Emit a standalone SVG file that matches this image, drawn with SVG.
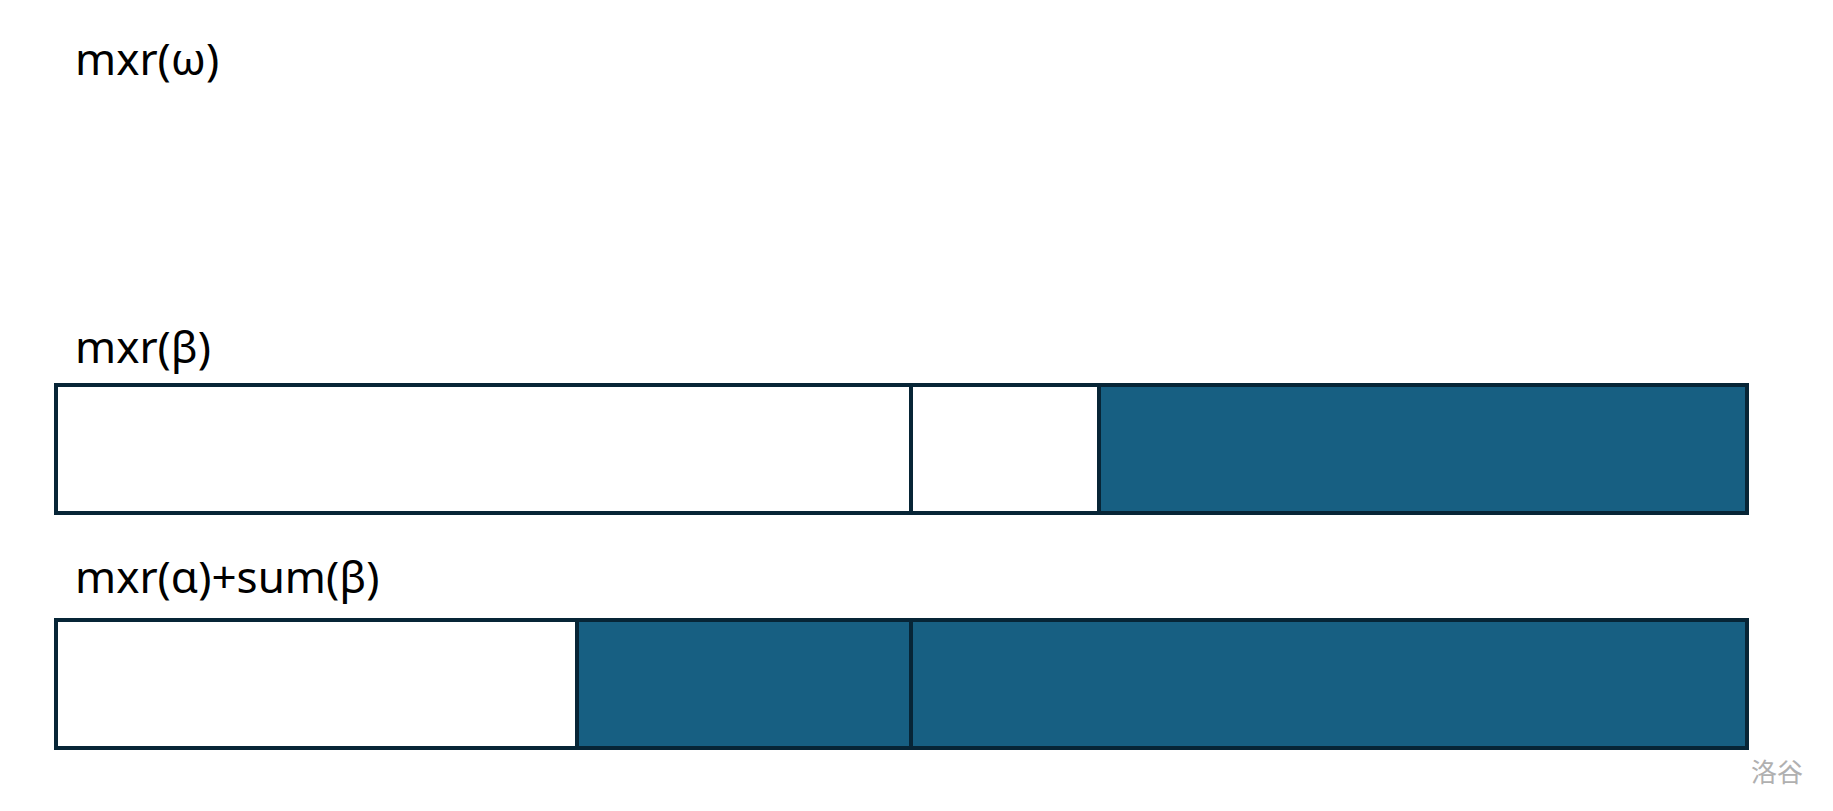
<svg xmlns="http://www.w3.org/2000/svg" width="1833" height="811" viewBox="0 0 1833 811">
<style>
.lbl{font-family:"Noto Sans","Open Sans","DejaVu Sans",sans-serif;font-size:44px;fill:#000}
.w{fill:#ffffff;stroke:#072536;stroke-width:4}
.b{fill:#175f82;stroke:#072536;stroke-width:4}
.wm{font-family:"Noto Sans CJK SC",sans-serif;font-size:26px;fill:#b0b0b0}
</style>
<rect width="1833" height="811" fill="#ffffff"/>
<g id="label-omega"><text class="lbl" x="75" y="75">mxr(ω)</text></g>
<g id="row-beta">
<text class="lbl" x="75" y="363">mxr(β)</text>
<rect class="w" x="56" y="385" width="855" height="128"/>
<rect class="w" x="911" y="385" width="188" height="128"/>
<rect class="b" x="1099" y="385" width="648" height="128"/>
</g>
<g id="row-alpha">
<text class="lbl" x="75" y="593">mxr(α)+sum(β)</text>
<rect class="w" x="56" y="620" width="521" height="128"/>
<rect class="b" x="577" y="620" width="334" height="128"/>
<rect class="b" x="911" y="620" width="836" height="128"/>
</g>
<g id="connectors"></g>
<text class="wm" x="1751" y="782">洛谷</text>
</svg>
